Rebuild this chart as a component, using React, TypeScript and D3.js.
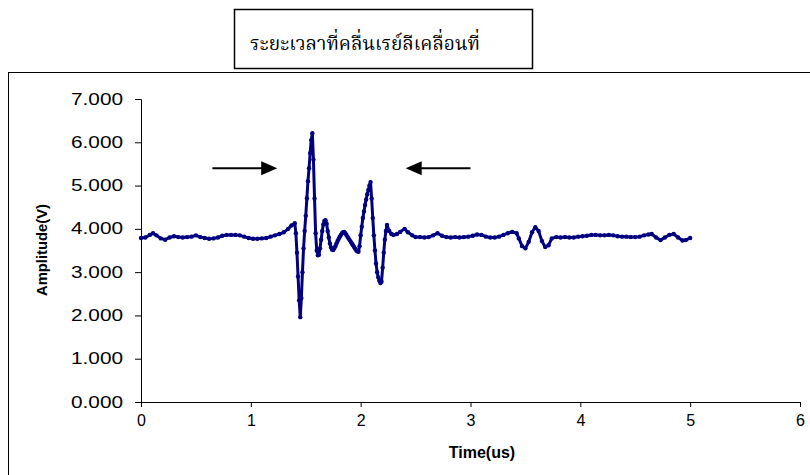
import React, { useEffect, useRef } from "react";
import * as d3 from "d3";

// time axis (us) and amplitude (V)
const times = [
  0.0, 0.04, 0.08, 0.11, 0.14, 0.18, 0.22, 0.26, 0.3, 0.34, 0.38, 0.42, 0.46, 0.5, 0.54, 0.58, 0.62, 0.66,
  0.7, 0.74, 0.78, 0.82, 0.86, 0.9, 0.94, 0.98, 1.02, 1.06, 1.1, 1.14, 1.18, 1.22, 1.26, 1.3, 1.34, 1.37,
  1.4, 1.41, 1.42, 1.43, 1.44, 1.45, 1.46, 1.47, 1.48, 1.49, 1.5, 1.51, 1.52, 1.53, 1.54, 1.55, 1.56, 1.57,
  1.58, 1.59, 1.6, 1.61, 1.62, 1.63, 1.64, 1.65, 1.66, 1.67, 1.68, 1.69, 1.7, 1.71, 1.72, 1.73, 1.74, 1.75,
  1.76, 1.77, 1.78, 1.79, 1.8, 1.81, 1.82, 1.83, 1.84, 1.85, 1.86, 1.87, 1.88, 1.89, 1.9, 1.91, 1.92, 1.93,
  1.94, 1.95, 1.96, 1.97, 1.98, 1.99, 2.0, 2.01, 2.02, 2.03, 2.04, 2.05, 2.06, 2.07, 2.08, 2.09, 2.1, 2.11,
  2.12, 2.13, 2.14, 2.15, 2.16, 2.17, 2.18, 2.19, 2.2, 2.21, 2.22, 2.23, 2.24, 2.26, 2.28, 2.3, 2.33, 2.36,
  2.4, 2.43, 2.47, 2.5, 2.54, 2.58, 2.62, 2.66, 2.7, 2.74, 2.78, 2.82, 2.86, 2.9, 2.94, 2.98, 3.02, 3.06,
  3.1, 3.14, 3.18, 3.22, 3.26, 3.3, 3.34, 3.38, 3.42, 3.44, 3.47, 3.5, 3.53, 3.56, 3.59, 3.62, 3.65, 3.68,
  3.71, 3.74, 3.78, 3.82, 3.86, 3.9, 3.94, 3.98, 4.02, 4.06, 4.1, 4.14, 4.18, 4.22, 4.26, 4.3, 4.34, 4.38,
  4.42, 4.46, 4.5, 4.54, 4.58, 4.62, 4.65, 4.69, 4.73, 4.77, 4.81, 4.85, 4.89, 4.93, 4.96, 5.0,
];
const amps = [
  3.79, 3.8, 3.86, 3.9, 3.85, 3.78, 3.75, 3.8, 3.83, 3.81, 3.8, 3.81, 3.82, 3.85, 3.81, 3.79, 3.77, 3.78,
  3.8, 3.84, 3.86, 3.86, 3.86, 3.85, 3.82, 3.79, 3.77, 3.77, 3.78, 3.79, 3.82, 3.85, 3.88, 3.92, 4.0, 4.08,
  4.13, 3.9, 3.45, 2.9, 2.35, 1.96, 2.4, 3.0, 3.55, 3.95, 4.3, 4.7, 5.1, 5.4, 5.75, 6.05, 6.21, 5.6,
  4.7, 3.9, 3.5, 3.39, 3.4, 3.55, 3.75, 3.95, 4.1, 4.18, 4.2, 4.12, 3.95, 3.8, 3.66, 3.57, 3.52, 3.51,
  3.55, 3.6, 3.66, 3.72, 3.77, 3.82, 3.86, 3.9, 3.92, 3.93, 3.9, 3.86, 3.82, 3.78, 3.74, 3.7, 3.66, 3.62,
  3.58, 3.54, 3.5, 3.48, 3.47, 3.6, 3.85, 4.05, 4.25, 4.4, 4.55, 4.68, 4.8, 4.9, 5.0, 5.08, 4.7, 4.25,
  3.85, 3.5, 3.2, 3.0, 2.88, 2.8, 2.75, 2.78, 3.1, 3.45, 3.75, 3.95, 4.09, 3.95, 3.88, 3.86, 3.88, 3.93,
  4.0, 3.92, 3.85, 3.81, 3.81, 3.8, 3.81, 3.85, 3.9, 3.84, 3.81, 3.8, 3.81, 3.8, 3.81, 3.82, 3.84, 3.87,
  3.86, 3.82, 3.8, 3.8, 3.82, 3.86, 3.9, 3.93, 3.9, 3.78, 3.6, 3.55, 3.7, 3.92, 4.04, 3.95, 3.72, 3.58,
  3.62, 3.78, 3.81, 3.8, 3.81, 3.8, 3.8, 3.82, 3.83, 3.84, 3.86, 3.86, 3.85, 3.85, 3.86, 3.85, 3.83, 3.82,
  3.82, 3.81, 3.81, 3.82, 3.85, 3.87, 3.88, 3.8, 3.74, 3.8, 3.86, 3.88, 3.8, 3.73, 3.74, 3.79,
];

const yTicks = [0, 1, 2, 3, 4, 5, 6, 7];
const xTicks = [0, 1, 2, 3, 4, 5, 6];
const titleText = "ระยะเวลาที่คลื่นเรย์ลีเคลื่อนที่";
// arrows marking the wave arrival window: [from, to] in time units, at amplitude level
const arrowRight = [0.65, 1.24];
const arrowLeft = [3.0, 2.41];
const arrowLevel = 5.4;

export default function App() {
  const ref = useRef<SVGSVGElement>(null);

  useEffect(() => {
    const svg = d3.select(ref.current);
    svg.selectAll("*").remove();

    const W = 810, H = 475;
    const x = d3.scaleLinear().domain([0, 6]).range([141, 800]);
    const y = d3.scaleLinear().domain([0, 7]).range([402, 99]);

    svg.append("rect").attr("width", W).attr("height", H).attr("fill", "white");

    // outer chart frame (runs off the page on right/bottom)
    svg.append("rect")
      .attr("x", 8.5).attr("y", 72.5)
      .attr("width", 820).attr("height", 420)
      .attr("fill", "none").attr("stroke", "black").attr("stroke-width", 1);

    // title box
    svg.append("rect")
      .attr("x", 234.5).attr("y", 9.5)
      .attr("width", 298).attr("height", 59)
      .attr("fill", "white").attr("stroke", "black").attr("stroke-width", 1.5);
    svg.append("text")
      .attr("x", 250).attr("y", 50)
      .attr("textLength", 230).attr("lengthAdjust", "spacingAndGlyphs")
      .style("font-family", "'Noto Serif Thai', 'Noto Sans Thai', Tahoma, serif")
      .style("font-size", "20px")
      .text(titleText);

    // y axis
    const yAxis = svg.append("g")
      .attr("transform", "translate(141,0)")
      .call(d3.axisLeft(y).tickValues(yTicks).tickSize(6).tickPadding(12).tickFormat(d3.format(".3f")));
    yAxis.select(".domain").attr("stroke", "black");
    yAxis.selectAll("text")
      .style("font-family", "'Liberation Sans', Arial, sans-serif")
      .style("font-size", "16px")
      .attr("textLength", 52).attr("lengthAdjust", "spacingAndGlyphs")
      .attr("fill", "black");

    // x axis
    const xAxis = svg.append("g")
      .attr("transform", "translate(0,402)")
      .call(d3.axisBottom(x).tickValues(xTicks).tickSize(5).tickPadding(8).tickFormat(d3.format("d")));
    xAxis.select(".domain").attr("stroke", "black");
    xAxis.selectAll("text")
      .style("font-family", "'Liberation Sans', Arial, sans-serif")
      .style("font-size", "16px")
      .attr("fill", "black");

    // axis titles
    svg.append("text")
      .attr("transform", "translate(47,250) rotate(-90)")
      .attr("text-anchor", "middle")
      .style("font-family", "'Liberation Sans', Arial, sans-serif")
      .style("font-size", "14px").style("font-weight", "bold")
      .attr("textLength", 92).attr("lengthAdjust", "spacingAndGlyphs")
      .text("Amplitude(V)");
    svg.append("text")
      .attr("x", 482).attr("y", 458)
      .attr("text-anchor", "middle")
      .style("font-family", "'Liberation Sans', Arial, sans-serif")
      .style("font-size", "16px").style("font-weight", "bold")
      .text("Time(us)");

    // trace
    const data = times.map((t, i) => ({ t, v: amps[i] }));
    const line = d3.line<{ t: number; v: number }>().x(d => x(d.t)).y(d => y(d.v));
    svg.append("path")
      .datum(data)
      .attr("d", line)
      .attr("fill", "none")
      .attr("stroke", "#000080")
      .attr("stroke-width", 3)
      .attr("stroke-linejoin", "round");
    svg.selectAll("circle.pt")
      .data(data)
      .join("circle")
      .attr("class", "pt")
      .attr("cx", d => x(d.t))
      .attr("cy", d => y(d.v))
      .attr("r", 2.2)
      .attr("fill", "#000080");

    // arrows
    const drawArrow = (from: number, to: number) => {
      const x0 = x(from), x1 = x(to), yy = y(arrowLevel);
      const dir = x1 > x0 ? 1 : -1;
      svg.append("line")
        .attr("x1", x0).attr("y1", yy).attr("x2", x1 - dir * 14).attr("y2", yy)
        .attr("stroke", "black").attr("stroke-width", 2);
      svg.append("path")
        .attr("d", `M${x1},${yy} L${x1 - dir * 16},${yy - 7} L${x1 - dir * 16},${yy + 7} Z`)
        .attr("fill", "black");
    };
    drawArrow(arrowRight[0], arrowRight[1]);
    drawArrow(arrowLeft[0], arrowLeft[1]);
  }, []);

  return (
    <svg ref={ref} width={810} height={475} style={{ position: "absolute", left: 0, top: 0 }} />
  );
}
